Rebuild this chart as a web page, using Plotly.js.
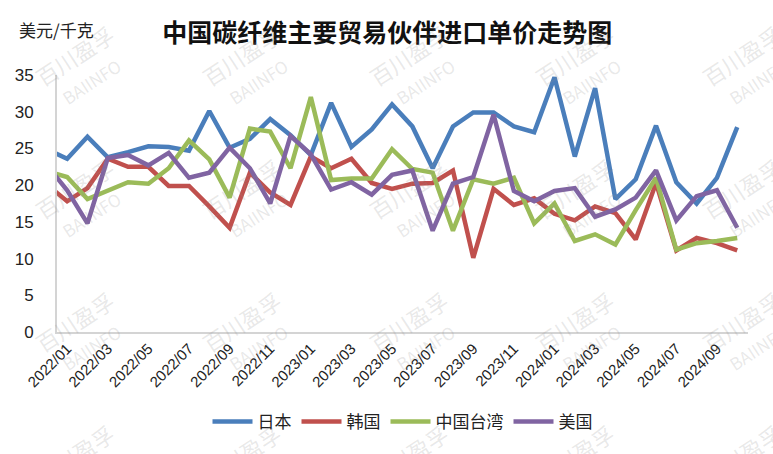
<!DOCTYPE html>
<html>
<head>
<meta charset="utf-8">
<script src="https://cdn.plot.ly/plotly-3.0.1.min.js"></script>
<style>
  html, body { margin: 0; padding: 0; background: #fff; }
  #chart { width: 773px; height: 454px; }
</style>
</head>
<body>
<div id="chart"></div>
<script>
// Monthly import unit price (USD/kg) by main trading partner
const months = [
  '2021/12',
  '2022/01','2022/02','2022/03','2022/04','2022/05','2022/06','2022/07','2022/08','2022/09','2022/10','2022/11','2022/12',
  '2023/01','2023/02','2023/03','2023/04','2023/05','2023/06','2023/07','2023/08','2023/09','2023/10','2023/11','2023/12',
  '2024/01','2024/02','2024/03','2024/04','2024/05','2024/06','2024/07','2024/08','2024/09','2024/10'
];

const tickMonths = [
  '2022/01','2022/03','2022/05','2022/07','2022/09','2022/11',
  '2023/01','2023/03','2023/05','2023/07','2023/09','2023/11',
  '2024/01','2024/03','2024/05','2024/07','2024/09'
];

const japan = [
  24.9,
  23.6, 26.6, 23.8, 24.5, 25.3, 25.2, 24.7, 30.1, 25.1, 26.3, 29.0, 26.8,
  24.1, 31.2, 25.2, 27.6, 31.0, 28.0, 22.3, 28.0, 29.9, 29.9, 28.0, 27.2,
  34.7, 23.9, 33.2, 18.1, 20.8, 28.1, 20.4, 17.5, 21.0, 27.9
];

const korea = [
  20.1,
  17.8, 19.6, 23.6, 22.5, 22.5, 19.9, 19.9, 17.1, 14.2, 21.7, 19.0, 17.3,
  23.9, 22.3, 23.6, 20.3, 19.5, 20.2, 20.3, 22.0, 10.1, 19.5, 17.3, 18.2,
  16.1, 15.2, 17.1, 16.2, 12.6, 20.3, 11.1, 12.8, 12.1, 11.1
];

const taiwan = [
  21.9,
  21.1, 18.1, 19.2, 20.4, 20.2, 22.3, 26.1, 23.5, 18.3, 27.7, 27.3, 22.3,
  32.0, 20.7, 20.9, 20.9, 24.9, 22.2, 21.7, 13.8, 20.8, 20.2, 21.0, 14.8,
  17.5, 12.4, 13.3, 11.9, 16.6, 21.0, 11.2, 12.1, 12.4, 12.8
];

const usa = [
  22.7,
  19.3, 14.8, 23.7, 24.1, 22.7, 24.4, 21.0, 21.7, 25.1, 22.3, 17.5, 26.7,
  24.2, 19.4, 20.4, 18.7, 21.4, 22.0, 13.8, 20.2, 21.1, 29.6, 19.2, 17.8,
  19.2, 19.6, 15.7, 16.7, 18.3, 22.0, 15.2, 18.5, 19.3, 14.2
];

const seriesNames = ['日本', '韩国', '中国台湾', '美国'];
const seriesColors = ['#4a7ebb', '#c0504d', '#9bbb59', '#8064a2'];
const seriesValues = [japan, korea, taiwan, usa];

const traces = seriesValues.map((vals, k) => ({
  type: 'scatter',
  mode: 'lines',
  name: seriesNames[k],
  x: months,
  y: vals,
  line: { color: seriesColors[k], width: 4.5 },
  hoverinfo: 'x+y+name'
}));

// Faint repeated brand stamp across the canvas
const stamps = [];
const stampCols = [82, 249, 416, 582, 749];
const stampRows = [67, 200, 333, 466];
stampRows.forEach(py => {
  stampCols.forEach(px => {
    stamps.push({
      xref: 'paper', yref: 'paper',
      x: (px - 57) / 691, y: (332 - py) / 257,
      xanchor: 'center', yanchor: 'middle',
      text: '百川盈孚<br><span style="font-size:17px">BAIINFO</span>',
      showarrow: false,
      textangle: -33,
      font: { family: 'Noto Sans CJK SC, Liberation Sans, sans-serif', size: 22, color: 'rgba(140,140,140,0.2)' }
    });
  });
});

const annotations = stamps.concat([{
  xref: 'paper', yref: 'paper',
  x: (17 - 57) / 691, y: (332 - 30) / 257,
  xanchor: 'left', yanchor: 'middle',
  text: '美元/千克',
  showarrow: false,
  font: { family: 'Noto Sans CJK SC, sans-serif', size: 17, color: '#222' }
}]);

const layout = {
  width: 773,
  height: 454,
  margin: { l: 57, r: 25, t: 75, b: 122 },
  paper_bgcolor: '#ffffff',
  plot_bgcolor: '#ffffff',
  title: {
    text: '<b>中国碳纤维主要贸易伙伴进口单价走势图</b>',
    x: 0.501, xref: 'container', xanchor: 'center',
    y: 1 - 33 / 454, yref: 'container', yanchor: 'middle',
    font: { family: 'Noto Sans CJK SC, sans-serif', size: 25, color: '#111' }
  },
  xaxis: {
    type: 'category',
    range: [0.5, 34.53],
    tickmode: 'array',
    tickvals: tickMonths,
    ticktext: tickMonths,
    tickangle: -45,
    tickfont: { family: 'Liberation Sans, Arial, sans-serif', size: 15, color: '#222' },
    showgrid: false,
    zeroline: false,
    showline: true,
    linecolor: '#d4d4d4',
    linewidth: 2,
    ticks: '',
    fixedrange: true
  },
  yaxis: {
    range: [0, 35],
    tickmode: 'array',
    tickvals: [0, 5, 10, 15, 20, 25, 30, 35],
    tickfont: { family: 'Liberation Sans, Arial, sans-serif', size: 17, color: '#222' },
    showgrid: false,
    zeroline: false,
    showline: true,
    linecolor: '#d4d4d4',
    linewidth: 2,
    ticks: '',
    ticklabelstandoff: 18,
    fixedrange: true
  },
  showlegend: true,
  legend: {
    orientation: 'h',
    x: 0.5, xanchor: 'center',
    y: (332 - 422) / 257, yanchor: 'middle',
    font: { family: 'Noto Sans CJK SC, sans-serif', size: 17, color: '#222' },
    itemwidth: 40,
    traceorder: 'normal'
  },
  annotations: annotations
};

Plotly.newPlot('chart', traces, layout, { displayModeBar: false, staticPlot: true });
</script>
</body>
</html>
